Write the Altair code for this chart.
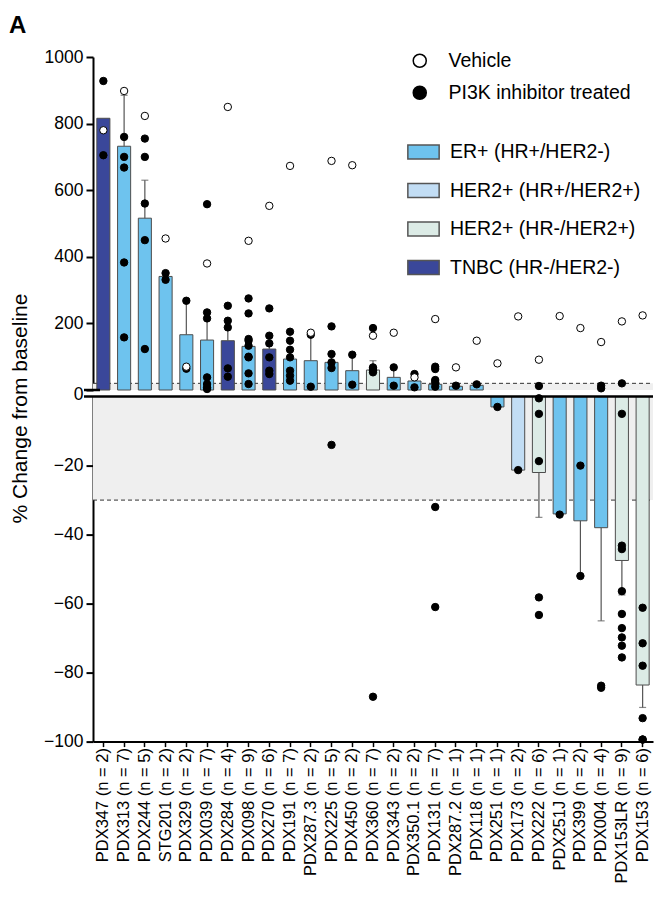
import altair as alt
import pandas as pd

# ---------------- data ----------------
models = ["PDX347", "PDX313", "PDX244", "STG201", "PDX329", "PDX039", "PDX284",
          "PDX098", "PDX270", "PDX191", "PDX287.3", "PDX225", "PDX450", "PDX360",
          "PDX343", "PDX350.1", "PDX131", "PDX287.2", "PDX118", "PDX251", "PDX173",
          "PDX222", "PDX251J", "PDX399", "PDX004", "PDX153LR", "PDX153"]
n_counts = [2, 7, 5, 2, 2, 7, 4, 9, 6, 7, 2, 5, 2, 7, 2, 2, 7, 1, 1, 1, 2, 6, 1, 2, 4, 9, 6]

ER = "ER+ (HR+/HER2-)"
H2P = "HER2+ (HR+/HER2+)"
H2N = "HER2+ (HR-/HER2+)"
TN = "TNBC (HR-/HER2-)"
subtype_order = [ER, H2P, H2N, TN]
subtype_colors = ["#6EC3EE", "#C2DDF4", "#DCEBE6", "#3A479A"]

subtypes = [TN, ER, ER, ER, ER, ER, TN, ER, TN, ER, ER, ER, ER, H2N, ER, ER, ER,
            ER, ER, ER, H2P, H2N, ER, ER, ER, H2N, H2N]

mean_change = [816, 732, 516, 341, 166, 150, 148, 131, 123, 93, 88, 83, 58, 60,
               38, 27, 17, 11, 14, -3, -21.3, -22, -34, -36, -38, -47.5, -83.6]
sem_change = [0, 153, 114, 10, 102, 80, 40, 22, 20, 25, 83, 22, 48, 28,
              30, 0, 0, 0, 0, 0, 0, 13, 0, 16, 27, 10, 6.5]

vehicle_change = [780, 898, 823, 455, 70, 380, 850, 448, 553, 673, 172, 688, 675, 163,
                  172, 38, 213, 68, 148, 80, 221, 91, 222, 186, 144, 206, 224]

treated_change = [
    [928, 705],
    [760, 700, 668, 383, 158],
    [755, 700, 560, 450, 123],
    [331, 351],
    [268, 64],
    [558, 233, 215, 38, 18, 8, 3],
    [253, 208, 188, 65, 40],
    [275, 230, 153, 148, 133, 100, 98, 50, 18],
    [245, 163, 140, 98, 58, 48],
    [175, 148, 121, 98, 58, 43, 28],
    [166, 10],
    [191, 108, 83, 66, -14],
    [106, 16],
    [186, 68, 63, 58, 53, -87],
    [68, 13],
    [48, 8],
    [70, 63, 30, 23, 10, -32, -61],
    [13],
    [17],
    [-3],
    [-21.3],
    [12, -0.5, -5, -18.7, -58.2, -63.3],
    [-34.2],
    [-20, -52],
    [5, 13, -84.4, -83.8],
    [20, -5, -44.2, -43.2, -56.4, -63, -67.1, -69.8, -72.2, -75.6],
    [-61.2, -71.5, -78, -93.2, -99.4, -99.4],
]

top_ticks = [0, 200, 400, 600, 800, 1000]
bottom_ticks = [-20, -40, -60, -80, -100]
progression_line = 20
response_line = -30

# ---------------- tables ----------------
labels = [f"{m} (n = {n})" for m, n in zip(models, n_counts)]

bars = pd.DataFrame({"label": labels, "subtype": subtypes,
                     "mean": mean_change, "sem": sem_change})
bars["base"] = 0
bars["err_end"] = [m + s if m >= 0 else m - s for m, s in zip(mean_change, sem_change)]

rows = []
for lab, vals in zip(labels, treated_change):
    for v in vals:
        rows.append({"label": lab, "value": v, "group": "PI3K inhibitor treated"})
for lab, v in zip(labels, vehicle_change):
    rows.append({"label": lab, "value": v, "group": "Vehicle"})
points = pd.DataFrame(rows)
points["order"] = range(len(points))

W = 560
H_TOP = 333
H_BOT = 345
FONT = "Liberation Sans"

color_legend = alt.Legend(
    orient="none", legendX=314, legendY=78.5, title=None,
    symbolType="M-1,-0.45L1,-0.45L1,0.45L-1,0.45Z", symbolSize=980,
    symbolStrokeColor="#555555", symbolStrokeWidth=1.5, symbolOpacity=1,
    labelFontSize=19.5, labelFont=FONT, labelColor="black", labelOffset=10,
    labelLimit=0, rowPadding=11.5, padding=0,
)
fill_legend = alt.Legend(
    orient="none", legendX=317, legendY=-6, title=None,
    symbolType="circle", symbolSize=170, symbolStrokeColor="black",
    symbolStrokeWidth=1.5, symbolOpacity=1,
    labelFontSize=19.5, labelFont=FONT, labelColor="black", labelOffset=19,
    labelLimit=0, rowPadding=11, padding=0,
)

color_scale = alt.Scale(domain=subtype_order, range=subtype_colors)
fill_scale = alt.Scale(domain=["Vehicle", "PI3K inhibitor treated"], range=["white", "black"])


def make_panel(top):
    if top:
        dom = [0, 1000]
        y_axis = alt.Axis(values=top_ticks, format="d", title="% Change from baseline",
                          titleX=-63, titleY=351, titleAlign="center", titleBaseline="bottom",
                          titleFontSize=21, titleFont=FONT, titleFontWeight="normal",
                          titleColor="black",
                          labelOffset={"condition": {"test": "datum.value === 0", "value": 4},
                                       "value": 0})
        x_axis = None
        b = bars[bars["mean"] >= 0]
        p = points[points["value"] >= 0]
        band = pd.DataFrame({"lo": [0], "hi": [progression_line]})
        line_val = progression_line
        h = H_TOP
    else:
        dom = [-100, 0]
        y_axis = alt.Axis(values=bottom_ticks, format="d", title=None)
        x_axis = alt.Axis(labelAngle=-90, labelFontSize=16.5, labelFont=FONT,
                          labelColor="black", labelPadding=1, tickColor="black",
                          tickWidth=1.5, tickSize=5, domainColor="black", domainWidth=2,
                          labelLimit=0)
        b = bars[bars["mean"] < 0]
        p = points[points["value"] < 0]
        band = pd.DataFrame({"lo": [response_line], "hi": [0]})
        line_val = response_line
        h = H_BOT

    y_scale = alt.Scale(domain=dom, nice=False, zero=False)

    def Y(field):
        return alt.Y(field, scale=y_scale, axis=y_axis)

    x_enc = alt.X("label:N", sort=labels, title=None, axis=x_axis,
                  scale=alt.Scale(domain=labels, paddingInner=0.37, paddingOuter=0.185))

    band_layer = alt.Chart(band).mark_rect(color="#EFEFEF").encode(
        y=Y("lo:Q"), y2="hi:Q", x=alt.value(0), x2=alt.value(W))
    dash_layer = alt.Chart(pd.DataFrame({"v": [line_val]})).mark_rule(
        color="#333333", strokeWidth=1, strokeDash=[4, 3]).encode(
        y=Y("v:Q"), x=alt.value(0), x2=alt.value(W))
    zero_df = pd.DataFrame({"v": [0]})
    if top:
        zero_layer = alt.Chart(zero_df).mark_rule(color="black", strokeWidth=2.5).encode(
            y=Y("v:Q"), x=alt.value(-9), x2=alt.value(7))
    else:
        zero_layer = alt.Chart(zero_df).mark_rule(color="black", strokeWidth=2.5).encode(
            y=Y("v:Q"), x=alt.value(-9), x2=alt.value(W))

    bar_layer = alt.Chart(b).mark_bar(stroke="#4D4D4D", strokeWidth=1).encode(
        x=x_enc, y=Y("mean:Q"), y2="base:Q",
        color=alt.Color("subtype:N", scale=color_scale, legend=color_legend))
    eb = b[b["sem"] > 0]
    err_layer = alt.Chart(eb).mark_rule(color="#555555", strokeWidth=1.2).encode(
        x=x_enc, y=Y("mean:Q"), y2="err_end:Q")
    cap_layer = alt.Chart(eb).mark_tick(color="#555555", thickness=1.2, size=7).encode(
        x=x_enc, y=Y("err_end:Q"))
    pt_layer = alt.Chart(p).mark_point(shape="circle", filled=True, size=55,
                                       stroke="black", strokeWidth=1, opacity=1).encode(
        x=x_enc, y=Y("value:Q"),
        fill=alt.Fill("group:N", scale=fill_scale, legend=fill_legend),
        order=alt.Order("order:Q"))

    layers = [band_layer, dash_layer, bar_layer, err_layer, cap_layer, pt_layer, zero_layer]
    return alt.layer(*layers).properties(width=W, height=h)


top_panel = make_panel(True)
bottom_panel = make_panel(False)

chart = alt.vconcat(top_panel, bottom_panel, spacing=6.6, bounds="flush").properties(
    title=alt.Title("A", anchor="start", fontSize=24, fontWeight="bold", font=FONT,
                    color="black", offset=10.5),
    padding={"left": 1, "top": 5, "right": 0, "bottom": 0},
).configure(font=FONT).configure_view(stroke=None).configure_axis(
    labelFont=FONT, titleFont=FONT
).configure_axisY(
    domainColor="black", domainWidth=2, tickColor="black", tickWidth=2, tickSize=7,
    labelFontSize=17.5, labelFont=FONT, labelColor="black", labelPadding=3, grid=False
).configure_axisX(grid=False, labelFont=FONT).configure_legend(labelFont=FONT)

chart.save("out.html", embed_options={"renderer": "svg", "actions": False})
